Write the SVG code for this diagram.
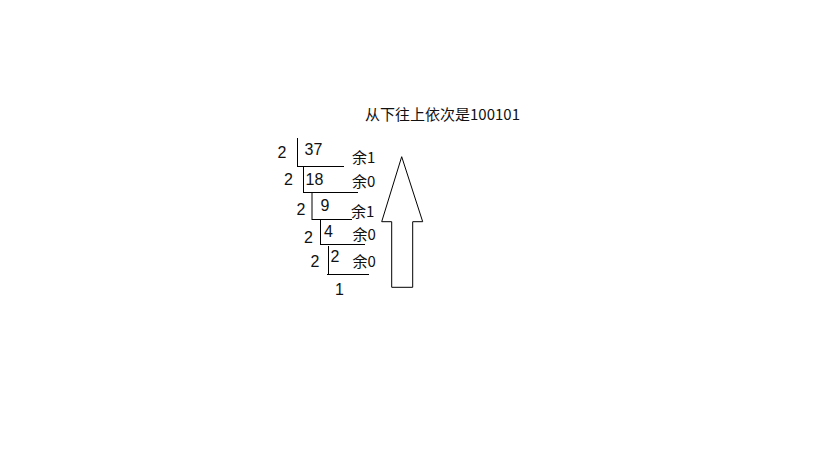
<svg xmlns="http://www.w3.org/2000/svg" width="819" height="460" viewBox="0 0 819 460">
<style>
text{font-family:"Liberation Sans","Noto Sans CJK SC",sans-serif;font-size:16px;fill:#111}
.t{font-family:"Noto Sans CJK SC","Liberation Sans",sans-serif;font-size:15px}
line,polygon{stroke:#000;stroke-width:1;fill:none}
</style>
<rect width="819" height="460" fill="#fff"/>
<g id="title"><text x="365" y="120" class="t">从下往上依次是100101</text></g>
<g id="division">
<g id="row1"><text x="277.5" y="158">2</text><text x="304.5" y="155">37</text><text x="352" y="163" class="t">余1</text></g>
<g id="row2"><text x="284" y="185">2</text><text x="305.5" y="185">18</text><text x="352" y="187" class="t">余0</text></g>
<g id="row3"><text x="296.5" y="215">2</text><text x="320.5" y="211">9</text><text x="351" y="217" class="t">余1</text></g>
<g id="row4"><text x="304" y="243">2</text><text x="324" y="237">4</text><text x="352.5" y="240" class="t">余0</text></g>
<g id="row5"><text x="310.5" y="267">2</text><text x="330.5" y="262">2</text><text x="352.5" y="267" class="t">余0</text></g>
<g id="last"><text x="335" y="295">1</text></g>
</g>
<g id="connectors">
<line x1="297.5" y1="138" x2="297.5" y2="167"/>
<line x1="297" y1="166.5" x2="344" y2="166.5"/>
<line x1="303.5" y1="167" x2="303.5" y2="193"/>
<line x1="303.5" y1="192.5" x2="358" y2="192.5"/>
<line x1="312" y1="193" x2="312" y2="220"/>
<line x1="312" y1="219.5" x2="352" y2="219.5"/>
<line x1="320.5" y1="220" x2="320.5" y2="245"/>
<line x1="320" y1="244.5" x2="365" y2="244.5"/>
<line x1="328.5" y1="246" x2="328.5" y2="274"/>
<line x1="327" y1="274.5" x2="369" y2="274.5"/>
</g>
<g id="arrow">
<polygon points="401.7,156.7 422.7,221.7 412.7,221.7 412.7,287.3 391.7,287.3 391.7,221.7 381.7,221.7"/>
</g>
</svg>
